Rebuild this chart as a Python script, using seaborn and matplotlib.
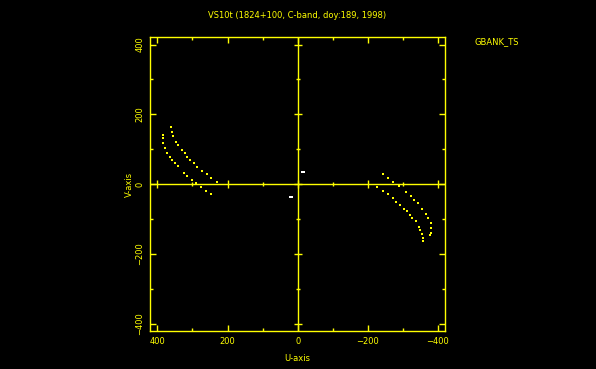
import numpy as np
import pandas as pd
import matplotlib
matplotlib.use("Agg")
import matplotlib.pyplot as plt
import seaborn as sns

# uv tracks (u, v in kilo-lambda)
left_outer_u = [384, 384, 383, 378, 372, 364, 358, 349, 341, 324, 315, 301, 289, 275, 261, 247]
left_outer_v = [141, 132, 118, 104, 89, 78, 69, 61, 52, 32, 24, 12, 4, -8, -19, -28]
left_inner_u = [361, 358, 355, 347, 341, 329, 321, 315, 307, 295, 287, 272, 258, 247, 229]
left_inner_v = [164, 149, 138, 121, 112, 98, 89, 78, 69, 61, 49, 38, 29, 18, 7]
right_upper_u = [-243, -257, -273, -288, -310, -324, -333, -343, -354, -367, -373, -379, -381, -379, -376]
right_upper_v = [29, 17, 7, -4, -23, -35, -45, -54, -70, -86, -97, -111, -126, -140, -145]
right_lower_u = [-226, -243, -257, -271, -281, -293, -303, -311, -319, -327, -338, -346, -350, -354, -357, -357]
right_lower_v = [-7, -19, -29, -40, -51, -59, -71, -78, -88, -97, -107, -123, -131, -142, -154, -164]
short_u = [-13, -16, -19, 22, 19, 16]
short_v = [35, 35, 34, -36, -36, -37]

title = "VS10t (1824+100, C-band, doy:189, 1998)"
source = "GBANK_TS"
major_ticks = [-400, -200, 0, 200, 400]
minor_ticks = [-300, -100, 100, 300]
lim = 421

yel = "#ffff00"
sns.set_theme(style="dark", rc={"figure.facecolor": "black", "axes.facecolor": "black",
                                "axes.edgecolor": yel, "text.color": yel,
                                "xtick.color": yel, "ytick.color": yel,
                                "axes.labelcolor": yel})
plt.rcParams["font.family"] = ["DejaVu Sans"]

df = pd.concat([
    pd.DataFrame({"u": left_outer_u, "v": left_outer_v}),
    pd.DataFrame({"u": left_inner_u, "v": left_inner_v}),
    pd.DataFrame({"u": right_upper_u, "v": right_upper_v}),
    pd.DataFrame({"u": right_lower_u, "v": right_lower_v}),
])
short = pd.DataFrame({"u": short_u, "v": short_v})

fig = plt.figure(figsize=(5.96, 3.69), dpi=100)
ax = fig.add_axes([0.2517, 0.103, 0.4955, 0.796])

# zero axes with their own cross ticks
ax.axhline(0, color=yel, lw=1.0, zorder=1)
ax.axvline(0, color=yel, lw=1.0, zorder=1)
ax.plot(major_ticks, [0] * len(major_ticks), ls="none", marker="|", ms=6, mew=1.0, color=yel)
ax.plot(minor_ticks, [0] * len(minor_ticks), ls="none", marker="|", ms=3.5, mew=1.0, color=yel)
ax.plot([0] * len(major_ticks), major_ticks, ls="none", marker="_", ms=6, mew=1.0, color=yel)
ax.plot([0] * len(minor_ticks), minor_ticks, ls="none", marker="_", ms=3.5, mew=1.0, color=yel)

sns.scatterplot(data=df, x="u", y="v", ax=ax, color=yel, marker="s", s=2.5, linewidth=0, zorder=3)
sns.scatterplot(data=short, x="u", y="v", ax=ax, color="white", marker="s", s=2.5, linewidth=0, zorder=3)

ax.set_xlim(lim, -lim)
ax.set_ylim(-lim, lim)
ax.set_xticks(major_ticks)
ax.set_xticks(minor_ticks, minor=True)
ax.set_yticks(major_ticks)
ax.set_yticks(minor_ticks, minor=True)
ax.tick_params(which="both", direction="in", top=True, right=True, bottom=True, left=True, width=1.0)
ax.tick_params(which="major", length=4, labelsize=6, pad=4)
ax.tick_params(which="minor", length=2.5)
ax.tick_params(axis="y", which="both", labelrotation=90)
for lbl in ax.get_yticklabels():
    lbl.set_verticalalignment("center")
for s in ax.spines.values():
    s.set_linewidth(1.0)
ax.grid(False)

ax.set_xlabel("U-axis", fontsize=6, labelpad=6)
ax.set_ylabel("V-axis", fontsize=6, labelpad=1)
fig.text(0.498, 0.957, title, fontsize=6, ha="center", va="center", color=yel)
fig.text(0.834, 0.886, source, fontsize=6, ha="center", va="center", color=yel)

fig.savefig("out.png", dpi=100, facecolor="black")
